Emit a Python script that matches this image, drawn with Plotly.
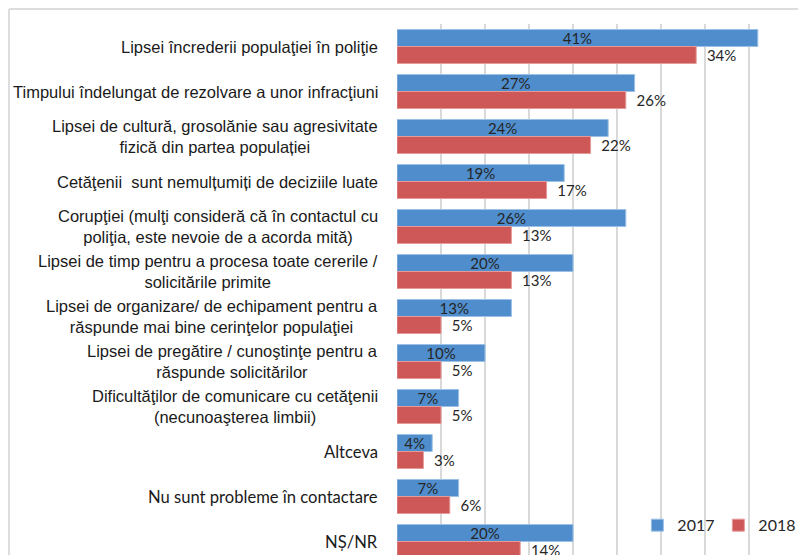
import plotly.graph_objects as go

# categories, top to bottom
categories = [
    "Lipsei încrederii populaţiei în poliţie",
    "Timpului îndelungat de rezolvare a unor infracţiuni",
    "Lipsei de cultură, grosolănie sau agresivitate<br>fizică din partea populației",
    "Cetăţenii  sunt nemulțumiți de deciziile luate",
    "Corupţiei (mulţi consideră că în contactul cu<br>poliţia, este nevoie de a acorda mită)",
    "Lipsei de timp pentru a procesa toate cererile /<br>solicitările primite",
    "Lipsei de organizare/ de echipament pentru a<br>răspunde mai bine cerinţelor populaţiei",
    "Lipsei de pregătire / cunoştinţe pentru a<br>răspunde solicitărilor",
    "Dificultăţilor de comunicare cu cetăţenii<br>(necunoaşterea limbii)",
    "Altceva",
    "Nu sunt probleme în contactare",
    "NȘ/NR",
]
# last three labels are set in a different font in the original
calibri_labels = ["Altceva", "Nu sunt probleme în contactare", "NȘ/NR"]

vals_2017 = [41, 27, 24, 19, 26, 20, 13, 10, 7, 4, 7, 20]
vals_2018 = [34, 26, 22, 17, 13, 13, 5, 5, 5, 3, 6, 14]

BLUE = "#4F8DCC"
RED = "#CE5757"
ARIAL = "Liberation Sans, Arial, sans-serif"
CALIBRI = "Lato, Calibri, sans-serif"

fig = go.Figure()
fig.add_trace(go.Bar(
    y=categories, x=vals_2017, orientation="h", name="2017",
    marker=dict(color=BLUE, line=dict(color="#9CC0E6", width=1)),
    text=[f"{v}%" for v in vals_2017], textposition="inside",
    insidetextanchor="middle", constraintext="none",
    textfont=dict(family=CALIBRI, size=15, color="#262626"),
))
fig.add_trace(go.Bar(
    y=categories, x=vals_2018, orientation="h", name="2018",
    marker=dict(color=RED, line=dict(color="#E59A9A", width=1)),
    text=[f"  {v}%" for v in vals_2018], textposition="outside",
    constraintext="none",
    textfont=dict(family=CALIBRI, size=15, color="#262626"),
))

# category labels as centred multi-line text, right aligned to the axis
for cat in categories:
    fig.add_annotation(
        x=-0.043, xref="paper", y=cat, yref="y",
        text=cat, showarrow=False, xanchor="right", align="center",
        font=dict(family=CALIBRI if cat in calibri_labels else ARIAL,
                  size=16.6 if cat in calibri_labels else 16.5, color="#1a1a1a"),
    )

# outer chart frame (cut off at right and bottom)
fig.add_shape(type="line", xref="paper", yref="paper",
              x0=-0.9798, x1=1.05, y0=1.0283, y1=1.0283,
              line=dict(color="#dddddd", width=2))
fig.add_shape(type="line", xref="paper", yref="paper",
              x0=-0.9798, x1=-0.9798, y0=-0.05, y1=1.0283,
              line=dict(color="#dddddd", width=2))

# the page body adds an 8px offset, so the figure is 8px smaller each way
fig.update_layout(
    width=798, height=547,
    margin=dict(l=389, r=13, t=16, b=0, autoexpand=False),
    paper_bgcolor="white", plot_bgcolor="white",
    barmode="group", bargap=0.244, bargroupgap=0,
    showlegend=True,
    legend=dict(orientation="h", x=0.607, y=0.056, xanchor="left", yanchor="middle",
                bgcolor="rgba(0,0,0,0)", entrywidth=36,
                font=dict(family=CALIBRI, size=16, color="#262626")),
    xaxis=dict(range=[0, 45], dtick=5, showticklabels=False, ticks="",
               showgrid=True, gridcolor="#d9d9d9", gridwidth=1.5, zeroline=False),
    yaxis=dict(range=[11.3, -0.5], showticklabels=False, ticks="",
               showgrid=False, zeroline=False),
)

fig.write_html("out.html")
